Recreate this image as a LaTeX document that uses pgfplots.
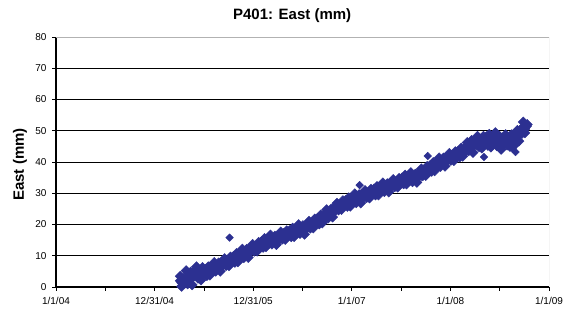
\documentclass[border=0pt]{standalone}
\usepackage{pgfplots}
\pgfplotsset{compat=1.18}
\usepackage{fontspec}
\setmainfont{Liberation Sans}
\definecolor{navy}{RGB}{44,48,145}
\begin{document}
\begin{tikzpicture}
\useasboundingbox (-56pt,-26pt) rectangle (509pt,287pt);
\begin{axis}[
  scale only axis, width=493pt, height=250pt,
  xmin=2004, xmax=2009, ymin=0, ymax=80,
  ytick={0,10,...,80},
  xtick={2004,2005,2006,2007,2008,2009},
  xticklabels={1/1/04,12/31/04,12/31/05,1/1/07,1/1/08,1/1/09},
  minor xtick={2004.5,2005.5,2006.5,2007.5,2008.5},
  tick align=outside, major tick length=4pt, minor tick length=4pt,
  tick style={black, line width=0.8pt},
  ymajorgrids, major grid style={black, line width=0.8pt},
  axis x line*=bottom, axis y line*=left,
  axis line style={-, black, line width=1.2pt},
  ticklabel style={font=\fontsize{10}{12}\selectfont},
  xticklabel style={yshift=-3pt},
  yticklabel style={xshift=-2pt},
  /pgf/number format/assume math mode=true,
  title={P401: East (mm)},
  title style={at={(axis description cs:0.479,1)}, anchor=base, yshift=11pt, font=\bfseries\fontsize{15}{18}\selectfont},
  ylabel={East (mm)},
  ylabel style={at={(axis description cs:-0.073,0.49)}, anchor=center, font=\bfseries\fontsize{15}{18}\selectfont},
]
\addplot[only marks, mark=square*, mark size=2.7pt, mark options={rotate=45, draw=navy, fill=navy}] coordinates {
(2005.76,15.8) (2007.08,32.6) (2007.77,41.9) (2008.34,41.6) (2008.66,43.2) (2008.63,44.3)
};
\addplot[only marks, mark=square*, mark size=3.6pt, mark options={rotate=45, draw=navy, fill=navy}] coordinates {
(2005.26,3.45) (2005.275,0.2) (2005.29,2.76) (2005.305,1.21) (2005.32,5.21) (2005.335,0.97) (2005.35,3.17) (2005.365,4.77) (2005.38,0.68) (2005.395,4.83) (2005.41,3.58) (2005.425,6.48) (2005.44,2.82) (2005.455,4.86) (2005.47,2.25) (2005.485,6.24) (2005.50,4.18) (2005.515,5.57) (2005.53,3.65)
(2005.545,6.47) (2005.56,3.79) (2005.575,6.11) (2005.59,5.13) (2005.605,7.85) (2005.62,5.07) (2005.635,6.59) (2005.65,7.71) (2005.665,5.03) (2005.68,7.85) (2005.695,7.08) (2005.71,9.10) (2005.725,6.83) (2005.74,8.35) (2005.755,6.78) (2005.77,9.60) (2005.785,8.23) (2005.80,9.75) (2005.815,7.88)
(2005.83,10.72) (2005.845,8.05) (2005.86,10.38) (2005.875,9.41) (2005.89,12.14) (2005.905,9.37) (2005.92,10.90) (2005.935,12.07) (2005.95,9.44) (2005.965,12.31) (2005.98,11.58) (2005.995,13.65) (2006.01,11.42) (2006.025,12.99) (2006.04,11.45) (2006.055,14.31) (2006.07,12.96) (2006.085,14.52) (2006.10,12.68)
(2006.115,15.54) (2006.13,12.90) (2006.145,15.11) (2006.16,14.01) (2006.175,16.62) (2006.19,13.73) (2006.205,15.17) (2006.22,16.28) (2006.235,13.58) (2006.25,16.39) (2006.265,15.60) (2006.28,17.61) (2006.295,15.32) (2006.31,16.82) (2006.325,15.23) (2006.34,18.01) (2006.355,16.56) (2006.37,18.02) (2006.385,16.08)
(2006.40,18.84) (2006.415,16.09) (2006.43,18.35) (2006.445,17.31) (2006.46,19.97) (2006.475,17.12) (2006.49,18.58) (2006.505,19.64) (2006.52,16.90) (2006.535,19.69) (2006.55,18.97) (2006.565,21.05) (2006.58,18.83) (2006.595,20.40) (2006.61,18.88) (2006.625,21.76) (2006.64,20.44) (2006.655,22.01) (2006.67,20.19)
(2006.685,23.07) (2006.70,20.45) (2006.715,22.82) (2006.73,21.90) (2006.745,24.74) (2006.76,22.07) (2006.775,23.71) (2006.79,24.94) (2006.805,22.38) (2006.82,25.31) (2006.835,24.65) (2006.85,26.78) (2006.865,24.62) (2006.88,26.25) (2006.895,24.79) (2006.91,27.62) (2006.925,26.21) (2006.94,27.69) (2006.955,25.78)
(2006.97,28.56) (2006.985,25.85) (2007.00,28.14) (2007.015,27.12) (2007.03,29.81) (2007.045,26.99) (2007.06,28.48) (2007.075,29.57) (2007.09,26.87) (2007.105,29.68) (2007.12,28.88) (2007.135,30.88) (2007.15,28.59) (2007.165,30.09) (2007.18,28.49) (2007.195,31.30) (2007.21,29.90) (2007.225,31.36) (2007.24,29.42)
(2007.255,32.18) (2007.27,29.45) (2007.285,31.71) (2007.30,30.67) (2007.315,33.33) (2007.33,30.49) (2007.345,31.97) (2007.36,33.07) (2007.375,30.37) (2007.39,33.18) (2007.405,32.38) (2007.42,34.38) (2007.435,32.08) (2007.45,33.59) (2007.465,31.99) (2007.48,34.79) (2007.495,33.39) (2007.51,34.90) (2007.525,33.00)
(2007.54,35.80) (2007.555,32.98) (2007.57,35.15) (2007.585,34.03) (2007.60,36.60) (2007.615,33.68) (2007.63,35.05) (2007.645,36.10) (2007.66,33.50) (2007.675,36.40) (2007.69,35.70) (2007.705,37.80) (2007.72,35.60) (2007.735,37.20) (2007.75,35.70) (2007.765,38.60) (2007.78,37.30) (2007.795,38.85) (2007.81,37.00)
(2007.825,39.84) (2007.84,37.19) (2007.855,39.54) (2007.87,38.59) (2007.885,41.33) (2007.90,38.58) (2007.915,40.13) (2007.93,41.28) (2007.945,38.62) (2007.96,41.47) (2007.975,40.72) (2007.99,42.76) (2008.005,40.49) (2008.02,42.03) (2008.035,40.46) (2008.05,43.30) (2008.065,41.94) (2008.08,43.47) (2008.095,41.61)
(2008.11,44.44) (2008.125,41.82) (2008.14,44.26) (2008.155,43.41) (2008.17,46.25) (2008.185,43.60) (2008.20,45.24) (2008.215,46.89) (2008.23,43.03) (2008.245,46.82) (2008.26,45.56) (2008.275,48.22) (2008.29,44.86) (2008.305,46.82) (2008.32,44.44) (2008.335,48.22) (2008.35,46.12) (2008.365,48.08) (2008.38,45.28)
(2008.395,48.88) (2008.41,44.77) (2008.425,47.67) (2008.44,45.94) (2008.455,49.40) (2008.47,45.16) (2008.485,46.93) (2008.50,48.15) (2008.515,44.04) (2008.53,47.64) (2008.545,46.20) (2008.56,48.78) (2008.575,45.40) (2008.59,47.35) (2008.605,44.95) (2008.62,48.71) (2008.635,46.60) (2008.65,48.54) (2008.665,45.88)
(2008.68,50.12) (2008.695,46.66) (2008.71,50.20) (2008.725,49.12) (2008.74,52.8) (2008.755,49.32) (2008.77,51.44) (2008.78,52.0)
(2005.26,2.0) (2005.275,1.35) (2005.29,2.21) (2005.305,1.66) (2005.32,2.81) (2005.335,2.57) (2005.35,3.62) (2005.365,2.97) (2005.38,4.03) (2005.395,3.38) (2005.41,4.23) (2005.425,3.63) (2005.44,4.62) (2005.455,4.21) (2005.47,5.10) (2005.485,4.29) (2005.50,5.18) (2005.515,4.37) (2005.53,5.15)
(2005.545,4.57) (2005.56,5.69) (2005.575,5.41) (2005.59,6.43) (2005.605,5.75) (2005.62,6.77) (2005.635,6.09) (2005.65,6.91) (2005.665,6.33) (2005.68,7.45) (2005.695,7.18) (2005.71,8.20) (2005.725,7.53) (2005.74,8.55) (2005.755,7.88) (2005.77,8.70) (2005.785,8.13) (2005.80,9.25) (2005.815,8.98)
(2005.83,10.02) (2005.845,9.35) (2005.86,10.38) (2005.875,9.71) (2005.89,10.54) (2005.905,9.97) (2005.92,11.10) (2005.935,10.87) (2005.95,11.94) (2005.965,11.31) (2005.98,12.38) (2005.995,11.75) (2006.01,12.62) (2006.025,12.09) (2006.04,13.25) (2006.055,13.01) (2006.07,14.06) (2006.085,13.42) (2006.10,14.48)
(2006.115,13.84) (2006.13,14.70) (2006.145,14.01) (2006.16,15.01) (2006.175,14.62) (2006.19,15.53) (2006.205,14.77) (2006.22,15.78) (2006.235,15.08) (2006.25,15.89) (2006.265,15.30) (2006.28,16.41) (2006.295,16.12) (2006.31,17.12) (2006.325,16.43) (2006.34,17.41) (2006.355,16.66) (2006.37,17.42) (2006.385,16.78)
(2006.40,17.84) (2006.415,17.49) (2006.43,18.45) (2006.445,17.71) (2006.46,18.67) (2006.475,17.92) (2006.49,18.68) (2006.505,18.04) (2006.52,19.10) (2006.535,18.79) (2006.55,19.87) (2006.565,19.25) (2006.58,20.33) (2006.595,19.70) (2006.61,20.58) (2006.625,20.06) (2006.64,21.24) (2006.655,21.01) (2006.67,22.09)
(2006.685,21.47) (2006.70,22.55) (2006.715,21.92) (2006.73,22.80) (2006.745,22.34) (2006.76,23.57) (2006.775,23.41) (2006.79,24.54) (2006.805,23.98) (2006.82,25.11) (2006.835,24.55) (2006.85,25.48) (2006.865,25.02) (2006.88,26.25) (2006.895,26.09) (2006.91,27.12) (2006.925,26.41) (2006.94,27.39) (2006.955,26.68)
(2006.97,27.46) (2006.985,26.85) (2007.00,27.94) (2007.015,27.62) (2007.03,28.61) (2007.045,27.89) (2007.06,28.88) (2007.075,28.17) (2007.09,28.97) (2007.105,28.38) (2007.12,29.48) (2007.135,29.18) (2007.15,30.19) (2007.165,29.49) (2007.18,30.49) (2007.195,29.80) (2007.21,30.60) (2007.225,29.96) (2007.24,31.02)
(2007.255,30.68) (2007.27,31.65) (2007.285,30.91) (2007.30,31.87) (2007.315,31.13) (2007.33,31.89) (2007.345,31.27) (2007.36,32.37) (2007.375,32.07) (2007.39,33.08) (2007.405,32.38) (2007.42,33.38) (2007.435,32.68) (2007.45,33.49) (2007.465,32.89) (2007.48,33.99) (2007.495,33.69) (2007.51,34.70) (2007.525,34.00)
(2007.54,35.00) (2007.555,34.18) (2007.57,34.85) (2007.585,34.13) (2007.60,35.10) (2007.615,34.68) (2007.63,35.55) (2007.645,34.80) (2007.66,35.90) (2007.675,35.30) (2007.69,36.20) (2007.705,35.70) (2007.72,36.90) (2007.735,36.70) (2007.75,37.80) (2007.765,37.20) (2007.78,38.30) (2007.795,37.65) (2007.81,38.50)
(2007.825,37.94) (2007.84,39.09) (2007.855,38.84) (2007.87,39.89) (2007.885,39.23) (2007.90,40.28) (2007.915,39.63) (2007.93,40.48) (2007.945,39.92) (2007.96,41.07) (2007.975,40.82) (2007.99,41.86) (2008.005,41.19) (2008.02,42.23) (2008.035,41.56) (2008.05,42.40) (2008.065,41.84) (2008.08,42.97) (2008.095,42.71)
(2008.11,43.74) (2008.125,43.12) (2008.14,44.26) (2008.155,43.71) (2008.17,44.65) (2008.185,44.20) (2008.20,45.44) (2008.215,45.29) (2008.23,46.29) (2008.245,45.54) (2008.26,46.48) (2008.275,45.72) (2008.29,46.46) (2008.305,45.80) (2008.32,46.84) (2008.335,46.48) (2008.35,47.42) (2008.365,46.66) (2008.38,47.60)
(2008.395,46.66) (2008.41,47.21) (2008.425,46.37) (2008.44,47.22) (2008.455,46.68) (2008.47,47.44) (2008.485,46.49) (2008.50,47.25) (2008.515,46.30) (2008.53,46.86) (2008.545,46.02) (2008.56,46.98) (2008.575,46.60) (2008.59,47.53) (2008.605,46.75) (2008.62,47.67) (2008.635,46.90) (2008.65,47.62) (2008.665,47.10)
(2008.68,48.60) (2008.695,48.70) (2008.71,50.10) (2008.725,49.80) (2008.74,51.20) (2008.755,50.60) (2008.77,51.50)
};
\draw[gray!60, line width=0.8pt] (rel axis cs:0,1) -- (rel axis cs:1,1) -- (rel axis cs:1,0);
\end{axis}
\end{tikzpicture}
\end{document}
